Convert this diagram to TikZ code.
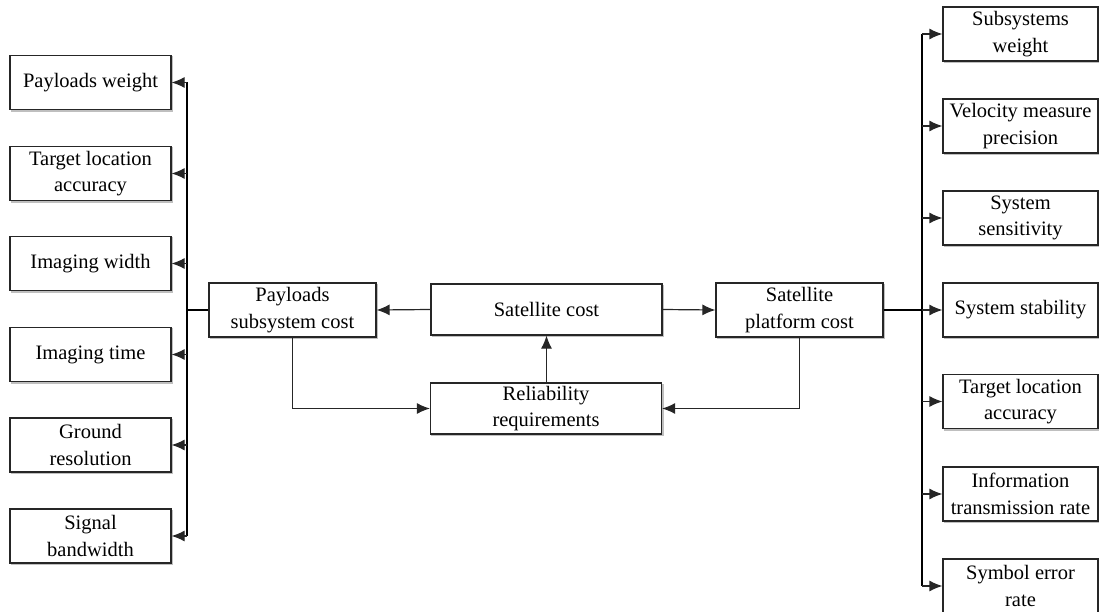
\documentclass[tikz,border=0pt]{standalone}
\usepackage{fontspec}
\setmainfont{Liberation Serif}
\usetikzlibrary{arrows.meta}
\begin{document}
\begin{tikzpicture}[x=1pt,y=1pt,
  box/.style={draw=black!85, line width=1.2pt, fill=white, align=center, inner sep=0pt,
    font=\fontsize{20.5}{26.5}\selectfont,
    preaction={draw=black!25, fill=black!25, line width=1.2pt, transform canvas={shift={(1.5pt,-1.5pt)}}}},
  lbox/.style={box, minimum width=161pt, minimum height=54pt},
  rbox/.style={box, minimum width=155pt, minimum height=54pt},
  mbox/.style={box, minimum width=167pt, minimum height=54pt},
  wbox/.style={box, minimum width=231pt, minimum height=51pt},
  conn/.style={draw=black!85, line width=1.2pt},
  bus/.style={draw=black, line width=1.6pt},
  arr/.style={conn, -{Latex[length=13pt,width=11pt]}}]
\useasboundingbox (0,0) rectangle (1099,-612);

% left column: payload indicators
\node[lbox] (pw) at (90.5,-82.5) {Payloads weight};
\node[lbox] (tla1) at (90.5,-173.5) {Target location\\accuracy};
\node[lbox] (iw) at (90.5,-263.5) {Imaging width};
\node[lbox] (it) at (90.5,-354.5) {Imaging time};
\node[lbox] (gr) at (90.5,-445) {Ground\\resolution};
\node[lbox] (sb) at (90.5,-536) {Signal\\bandwidth};

% centre: cost structure
\node[mbox] (psc) at (292.5,-310) {Payloads\\subsystem cost};
\node[wbox] (sc) at (546.5,-309.5) {Satellite cost};
\node[wbox] (rr) at (546,-408.5) {Reliability\\requirements};
\node[mbox] (spc) at (799.5,-310) {Satellite\\platform cost};

% right column: platform indicators
\node[rbox] (sw) at (1020.5,-34) {Subsystems\\weight};
\node[rbox] (vmp) at (1020.5,-126) {Velocity measure\\precision};
\node[rbox] (ss) at (1020.5,-218) {System\\sensitivity};
\node[rbox] (sst) at (1020.5,-310) {System stability};
\node[rbox] (tla2) at (1020.5,-401.5) {Target location\\accuracy};
\node[rbox] (itr) at (1020.5,-494) {Information\\transmission rate};
\node[rbox] (ser) at (1020.5,-586) {Symbol error\\rate};

% bus positions
\coordinate (lbus) at (187,0);
\coordinate (rbus) at (922,0);

% left bus and its branches
\draw[bus] (lbus |- pw.east) -- (lbus |- sb.east);
\draw[bus] (psc.west) -- (lbus |- psc.west);
\foreach \n in {pw,tla1,iw,it,gr,sb}
  \draw[arr] (lbus |- \n.east) -- (\n.east);

% right bus and its branches
\draw[bus] (rbus |- sw.west) -- (rbus |- ser.west);
\draw[bus] (spc.east) -- (rbus |- spc.east);
\foreach \n in {sw,vmp,ss,sst,tla2,itr,ser}
  \draw[arr] (rbus |- \n.west) -- (\n.west);

% centre connections
\draw[arr] (sc.west) -- (psc.east);
\draw[arr] (sc.east) -- (spc.west);
\draw[arr] (rr.north -| sc.south) -- (sc.south);
\draw[arr] (psc.south) |- (rr.west);
\draw[arr] (spc.south) |- (rr.east);
\end{tikzpicture}
\end{document}
